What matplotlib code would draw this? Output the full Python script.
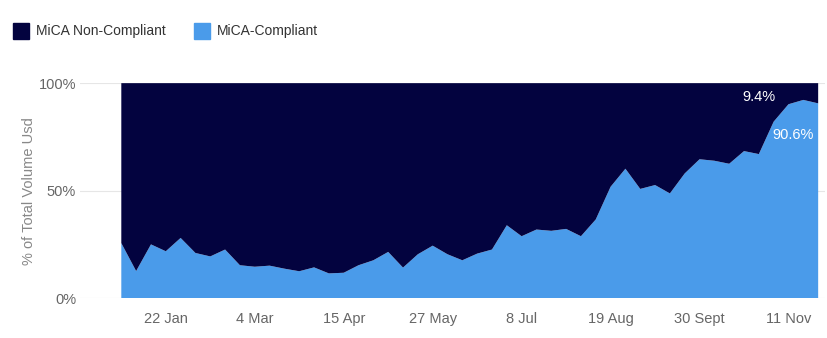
import matplotlib
matplotlib.use("Agg")
import matplotlib.pyplot as plt
from matplotlib.patches import Patch
import pandas as pd

plt.rcParams["font.family"] = ["Liberation Sans", "DejaVu Sans"]

# ---- data ----
start_date = "2024-01-01"
n_weeks = 48
compliant = [25.6, 12.6, 25.0, 21.8, 28.0, 21.0, 19.4, 22.6, 15.3, 14.6,
             15.1, 13.7, 12.5, 14.3, 11.5, 11.8, 15.3, 17.6, 21.5, 14.2,
             20.4, 24.4, 20.4, 17.6, 20.7, 22.6, 33.9, 28.8, 31.9, 31.3,
             32.2, 28.8, 36.6, 51.8, 60.2, 50.8, 52.6, 48.7, 58.0, 64.6,
             63.9, 62.5, 68.4, 67.0, 82.1, 90.2, 92.2, 90.6]
non_compliant = [100 - v for v in compliant]
tick_dates = ["2024-01-22", "2024-03-04", "2024-04-15", "2024-05-27",
              "2024-07-08", "2024-08-19", "2024-09-30", "2024-11-11"]
tick_labels = ["22 Jan", "4 Mar", "15 Apr", "27 May", "8 Jul", "19 Aug", "30 Sept", "11 Nov"]
series_names = ["MiCA Non-Compliant", "MiCA-Compliant"]
label_non = "9.4%"
label_comp = "90.6%"

dates = pd.date_range(start_date, periods=n_weeks, freq="7D")

c_dark = "#03033F"
c_light = "#4A9BEA"
grey = "#666666"

fig = plt.figure(figsize=(8.27, 3.38), dpi=100)
ax = fig.add_axes([0.097, 0.118, 0.900, 0.636])

ax.stackplot(dates, compliant, non_compliant, colors=[c_light, c_dark], linewidth=0)

ax.set_ylim(0, 100)
ax.set_xlim(dates[0] - pd.Timedelta(days=19.4), dates[-1] + pd.Timedelta(days=3.0))
ax.set_yticks([0, 50, 100])
ax.set_yticklabels(["0%", "50%", "100%"])
ax.set_xticks(pd.to_datetime(tick_dates))
ax.set_xticklabels(tick_labels)
ax.tick_params(axis="both", length=0, colors=grey, labelsize=10.5)
ax.tick_params(axis="x", pad=10)
ax.tick_params(axis="y", pad=3)
ax.grid(axis="y", color="#E6E6E6", linewidth=0.8, zorder=0)
ax.set_axisbelow(True)
for s in ax.spines.values():
    s.set_visible(False)
ax.set_ylabel("% of Total Volume Usd", color="#888888", fontsize=10.5, labelpad=2)

ax.text(dates[43], 93.5, label_non, color="white",
        fontsize=10.5, ha="center", va="center")
ax.text(dates[45] + pd.Timedelta(days=2), 75.7, label_comp, color="white",
        fontsize=10.5, ha="center", va="center")

handles = [Patch(facecolor=c_dark, edgecolor=c_dark), Patch(facecolor=c_light, edgecolor=c_light)]
fig.legend(handles, series_names, loc="upper left", bbox_to_anchor=(0.0, 0.97),
           ncol=2, frameon=False, fontsize=10, handlelength=1.2, handleheight=1.4,
           columnspacing=2.0, handletextpad=0.5, labelcolor="#333333")

fig.savefig("out.png", dpi=100)
